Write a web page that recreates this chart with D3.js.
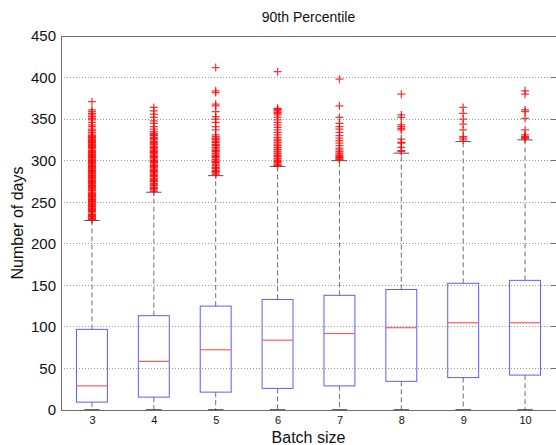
<!DOCTYPE html>
<html>
<head>
<meta charset="utf-8">
<script src="https://cdn.jsdelivr.net/npm/d3@7"></script>
<style>
  html, body { margin: 0; padding: 0; background: #fff; }
  svg { display: block; font-family: "Liberation Sans", Arial, Helvetica, sans-serif; }
</style>
</head>
<body>
<svg id="chart" width="556" height="445"></svg>
<script>
// ---------- data ----------
const categories = ["3", "4", "5", "6", "7", "8", "9", "10"];
const q1Values     = [9.5, 15.5, 21.5, 26, 29, 34.5, 39, 42];
const medianValues = [29, 58.5, 72.5, 84, 92, 99, 105, 105];
const q3Values     = [97, 113.5, 125, 133, 138, 145, 152.5, 156];
const lowerWhisker = [0, 0, 0, 0, 0, 0, 0, 0];
const upperWhisker = [228, 262, 282, 293, 300, 309, 323, 325];

const outliers3 = [229,230,231,232,233,234,235,236,238,239,240,241,242,243,244,245,246,247,248,249,
  250,251,252,253,254,255,256,257,258,259,260,261,262,264,265,266,267,268,269,270,271,272,273,274,
  275,276,277,278,279,280,281,282,283,284,285,286,287,288,289,290,291,292,293,294,295,296,297,298,
  299,300,301,302,303,304,305,306,307,308,309,310,311,312,314,315,316,317,318,319,320,321,322,323,
  324,325,326,327,328,329,330,332,334,336,338,341,343,346,349,351,353,355,357,359,361,371];
const outliers4 = [263,265,266,267,268,270,271,272,273,275,276,277,278,279,281,282,283,284,286,287,
  288,289,290,292,293,294,295,297,298,299,300,301,303,304,305,306,308,309,310,311,312,314,315,316,
  317,319,320,321,322,323,325,326,327,328,330,331,332,333,335,338,341,345,348,352,356,360,364];
const outliers5 = [283,284,286,287,288,290,291,292,294,295,297,298,299,301,302,304,305,306,308,309,
  311,312,313,315,316,318,319,320,322,323,325,326,327,329,331,337,341,346,350,353,359,366,368,382,384,412];
const outliers6 = [294,295,296,298,299,300,302,303,305,306,308,309,311,313,314,316,318,320,322,324,
  326,328,331,334,337,340,343,346,349,352,355,357,358,360,361,362,363,407];
const outliers7 = [301,302,303,304,305,306,308,309,311,313,315,318,321,324,327,330,334,338,341,345,352,366,398];
const outliers8 = [311,312,316,321,322,326,337,339,341,343,352,355,380];
const outliers9 = [325,327,329,337,344,350,357,364];
const outliers10 = [326,327,328,329,331,337,351,359,361,380,384];
const outlierLists = [outliers3, outliers4, outliers5, outliers6, outliers7, outliers8, outliers9, outliers10];

const yTicks = [0, 50, 100, 150, 200, 250, 300, 350, 400, 450];
const titleText = "90th Percentile";
const xLabel = "Batch size";
const yLabel = "Number of days";

// ---------- layout ----------
const W = 556, H = 445;
const m = { left: 61, right: 0, top: 36, bottom: 35 };
const svg = d3.select("#chart");

const x = d3.scaleLinear().domain([0.5, categories.length + 0.5]).range([m.left, W - m.right]);
const y = d3.scaleLinear().domain([0, 450]).range([H - m.bottom, m.top]);
const boxHalf = (x(1.25) - x(1));
const capHalf = boxHalf / 2;

const axisColor = "#6e6e6e";

// grid lines
svg.append("g").selectAll("line")
  .data(yTicks.filter(d => d > 0 && d < 450))
  .join("line")
  .attr("x1", m.left).attr("x2", W - m.right)
  .attr("y1", d => y(d)).attr("y2", d => y(d))
  .attr("stroke", "#9a9a9a").attr("stroke-width", 1)
  .attr("stroke-dasharray", "1,2")
  .attr("shape-rendering", "crispEdges");

const data = categories.map((c, i) => ({
  i: i + 1, c, q1: q1Values[i], med: medianValues[i], q3: q3Values[i],
  lo: lowerWhisker[i], hi: upperWhisker[i], out: outlierLists[i]
}));

// outliers
const outG = svg.append("g");
data.forEach(d => {
  const cx = x(d.i);
  outG.append("g").selectAll("path")
    .data(d.out)
    .join("path")
    .attr("d", v => `M${cx - 4},${y(v)}H${cx + 4}M${cx},${y(v) - 4}V${y(v) + 4}`)
    .attr("stroke", "#ff0000")
    .attr("stroke-opacity", 0.8)
    .attr("stroke-width", 1.25)
    .attr("fill", "none");
});

const g = svg.append("g").selectAll("g").data(data).join("g");

// whiskers
g.append("line")
  .attr("x1", d => x(d.i)).attr("x2", d => x(d.i))
  .attr("y1", d => y(d.q3)).attr("y2", d => y(d.hi))
  .attr("stroke", "#707070").attr("stroke-dasharray", "5,3");
g.append("line")
  .attr("x1", d => x(d.i)).attr("x2", d => x(d.i))
  .attr("y1", d => y(d.q1)).attr("y2", d => y(d.lo))
  .attr("stroke", "#707070").attr("stroke-dasharray", "5,3");
// caps
g.append("line")
  .attr("x1", d => x(d.i) - capHalf).attr("x2", d => x(d.i) + capHalf)
  .attr("y1", d => y(d.hi)).attr("y2", d => y(d.hi))
  .attr("stroke", "#555");
// box
g.append("rect")
  .attr("x", d => x(d.i) - boxHalf).attr("width", 2 * boxHalf)
  .attr("y", d => y(d.q3)).attr("height", d => y(d.q1) - y(d.q3))
  .attr("fill", "none").attr("stroke", "#5c5cff").attr("stroke-width", 1);
// median
g.append("line")
  .attr("x1", d => x(d.i) - boxHalf).attr("x2", d => x(d.i) + boxHalf)
  .attr("y1", d => y(d.med)).attr("y2", d => y(d.med))
  .attr("stroke", "#ff5c5c").attr("stroke-width", 1.2);

// axes frame
svg.append("line").attr("x1", m.left).attr("x2", W).attr("y1", m.top).attr("y2", m.top)
  .attr("stroke", axisColor).attr("shape-rendering", "crispEdges");
svg.append("line").attr("x1", m.left).attr("x2", W).attr("y1", y(0)).attr("y2", y(0))
  .attr("stroke", axisColor).attr("shape-rendering", "crispEdges");
svg.append("line").attr("x1", m.left).attr("x2", m.left).attr("y1", m.top).attr("y2", y(0))
  .attr("stroke", axisColor).attr("shape-rendering", "crispEdges");

// lower caps (at 0, black over axis)
g.append("line")
  .attr("x1", d => x(d.i) - capHalf).attr("x2", d => x(d.i) + capHalf)
  .attr("y1", d => y(d.lo)).attr("y2", d => y(d.lo))
  .attr("stroke", "#111").attr("stroke-width", 1.3);

// right-side tick marks
svg.append("g").selectAll("line")
  .data(yTicks.filter(d => d > 0 && d < 450))
  .join("line")
  .attr("x1", W - 5).attr("x2", W)
  .attr("y1", d => y(d)).attr("y2", d => y(d))
  .attr("stroke", axisColor).attr("shape-rendering", "crispEdges");

// y axis labels
const yAxis = d3.axisLeft(y).tickValues(yTicks).tickSize(0).tickPadding(5);
const ya = svg.append("g").attr("transform", `translate(${m.left},0)`).call(yAxis);
ya.select(".domain").remove();
ya.selectAll("text").attr("font-size", 15).attr("fill", "#111")
  .attr("font-family", "Liberation Sans, Arial, sans-serif");

// x axis labels
const xAxis = d3.axisBottom(x).tickValues(data.map(d => d.i)).tickFormat((d, i) => categories[i]).tickSize(0).tickPadding(6);
const xa = svg.append("g").attr("transform", `translate(0,${y(0)})`).call(xAxis);
xa.select(".domain").remove();
xa.selectAll("text").attr("font-size", 11).attr("fill", "#111")
  .attr("font-family", "Liberation Sans, Arial, sans-serif");

// title and labels
svg.append("text").attr("x", (m.left + W) / 2).attr("y", 22)
  .attr("text-anchor", "middle").attr("font-size", 14).attr("fill", "#111").text(titleText);
svg.append("text").attr("x", (m.left + W) / 2).attr("y", 443)
  .attr("text-anchor", "middle").attr("font-size", 16).attr("fill", "#111").text(xLabel);
svg.append("text")
  .attr("transform", `translate(23,${(m.top + y(0)) / 2}) rotate(-90)`)
  .attr("text-anchor", "middle").attr("font-size", 16).attr("fill", "#111").text(yLabel);
</script>
</body>
</html>
